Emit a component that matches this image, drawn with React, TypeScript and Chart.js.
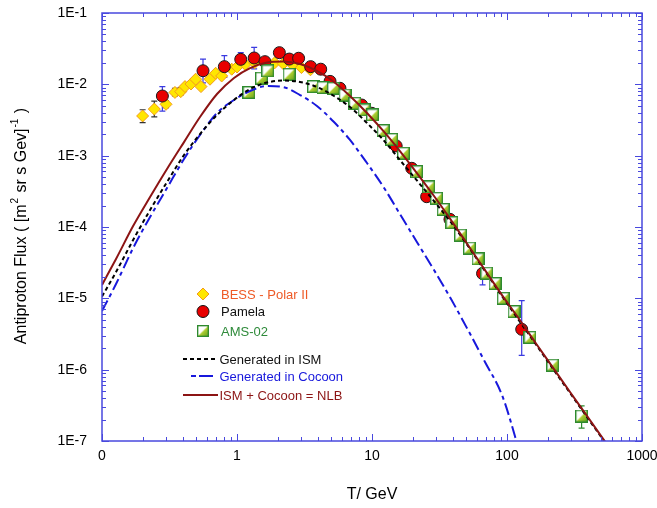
import React, { useEffect, useRef } from "react";
import { Chart, registerables } from "chart.js";

Chart.register(...registerables);

const FONT = "'Liberation Sans', Arial, Helvetica, sans-serif";
const AXIS = "#4848de";

// ---- ticks ----
const xTickValues = [0.1, 1, 10, 100, 1000];
const xTickLabels = ["0", "1", "10", "100", "1000"];
const yTickValues = [1e-7, 1e-6, 1e-5, 1e-4, 1e-3, 1e-2, 1e-1];
const yTickLabels = ["1E-7", "1E-6", "1E-5", "1E-4", "1E-3", "1E-2", "1E-1"];

// ---- BESS - Polar II ----
const bessT = [0.2, 0.244, 0.298, 0.347, 0.383, 0.412, 0.456, 0.494, 0.541, 0.631, 0.695, 0.77, 0.914, 1.0, 1.15, 1.35, 1.6, 1.9, 2.2, 2.6, 3.0, 3.5];
const bessF = [3.6e-3, 4.5e-3, 5.25e-3, 7.7e-3, 7.9e-3, 9.3e-3, 1.01e-2, 1.18e-2, 9.3e-3, 1.18e-2, 1.43e-2, 1.31e-2, 1.63e-2, 1.75e-2, 1.9e-2, 2.0e-2, 2.05e-2, 2.0e-2, 1.95e-2, 1.85e-2, 1.72e-2, 1.6e-2];
const bessErrT = [0.2, 0.244, 0.298, 0.347, 0.383, 0.456];
const bessErrLo = [2.9e-3, 3.5e-3, 4.7e-3, 6.9e-3, 7.1e-3, 9.1e-3];
const bessErrHi = [4.4e-3, 5.8e-3, 5.9e-3, 8.8e-3, 9.0e-3, 1.13e-2];

// ---- Pamela ----
const pamT = [0.28, 0.56, 0.806, 1.066, 1.34, 1.61, 2.06, 2.44, 2.86, 3.51, 4.17, 4.89, 5.79, 8.39, 9.95, 15.1, 19.7, 25.4, 37.8, 65.9, 128.5];
const pamF = [6.86e-3, 1.55e-2, 1.77e-2, 2.24e-2, 2.34e-2, 2.08e-2, 2.78e-2, 2.26e-2, 2.32e-2, 1.77e-2, 1.63e-2, 1.1e-2, 8.8e-3, 5.13e-3, 3.93e-3, 1.37e-3, 6.65e-4, 2.66e-4, 1.28e-4, 2.23e-5, 3.68e-6];
const pamErrT = [0.28, 0.56, 0.806, 1.066, 1.34, 65.9, 128.5];
const pamErrLo = [4.2e-3, 1.05e-2, 1.25e-2, 1.8e-2, 1.65e-2, 1.54e-5, 1.59e-6];
const pamErrHi = [9.3e-3, 2.26e-2, 2.52e-2, 2.78e-2, 3.3e-2, 2.64e-5, 9.3e-6];

// ---- AMS-02 ----
const amsT = [1.227, 1.52, 1.69, 2.43, 3.69, 4.34, 5.17, 6.31, 7.48, 8.73, 10.1, 12.1, 14.0, 17.1, 21.4, 26.3, 30.1, 33.7, 39.1, 45.3, 52.7, 61.0, 70.8, 81.5, 93.9, 112.7, 148, 218, 357];
const amsF = [7.68e-3, 1.22e-2, 1.54e-2, 1.38e-2, 9.3e-3, 9.0e-3, 8.8e-3, 7.08e-3, 5.42e-3, 4.37e-3, 3.72e-3, 2.24e-3, 1.69e-3, 1.08e-3, 5.96e-4, 3.64e-4, 2.52e-4, 1.76e-4, 1.15e-4, 7.7e-5, 5.07e-5, 3.56e-5, 2.26e-5, 1.61e-5, 1.0e-5, 6.5e-6, 2.84e-6, 1.16e-6, 2.24e-7];
const amsErrT = [357];
const amsErrLo = [1.52e-7];
const amsErrHi = [3.1e-7];

// ---- model curves ----
const nlbT = [0.1, 0.127, 0.17, 0.227, 0.303, 0.405, 0.532, 0.711, 0.95, 1.25, 1.67, 2.19, 2.93, 3.91, 5.23, 6.87, 9.18, 12.3, 16.1, 21.5, 28.8, 38.5, 51.4, 68.7, 91.8, 123, 164, 219, 293, 392, 523, 698];
const nlbF = [1.54e-5, 3.56e-5, 1.03e-4, 2.63e-4, 6.5e-4, 1.55e-3, 3.48e-3, 7.32e-3, 1.23e-2, 1.69e-2, 2.02e-2, 2.09e-2, 1.93e-2, 1.54e-2, 1.08e-2, 6.86e-3, 3.96e-3, 2.15e-3, 1.16e-3, 5.71e-4, 2.72e-4, 1.25e-4, 5.6e-5, 2.49e-5, 1.11e-5, 5.13e-6, 2.33e-6, 1.07e-6, 4.86e-7, 2.24e-7, 1.03e-7, 4.75e-8];

const ismT = [0.1, 0.127, 0.17, 0.227, 0.303, 0.405, 0.532, 0.711, 0.95, 1.25, 1.67, 2.19, 2.93, 3.91, 5.23, 6.87, 9.18, 12.3, 16.1, 21.5, 28.8, 38.5, 51.4, 68.7, 91.8, 164, 293, 523, 698];
const ismF = [1.06e-5, 2.34e-5, 6.57e-5, 1.73e-4, 4.27e-4, 1.02e-3, 2.01e-3, 3.72e-3, 6.03e-3, 8.6e-3, 1.06e-2, 1.13e-2, 1.08e-2, 9.18e-3, 6.86e-3, 4.81e-3, 2.87e-3, 1.61e-3, 8.69e-4, 4.49e-4, 2.31e-4, 1.16e-4, 5.41e-5, 2.42e-5, 1.08e-5, 2.25e-6, 4.71e-7, 1.0e-7, 4.6e-8];

const cocT = [0.1, 0.127, 0.17, 0.227, 0.303, 0.405, 0.532, 0.711, 0.95, 1.25, 1.67, 2.19, 2.93, 3.91, 5.23, 6.87, 9.18, 12.3, 16.1, 21.5, 28.8, 38.5, 51.4, 68.7, 91.8, 115, 120.5];
const cocF = [6.64e-6, 1.59e-5, 5.07e-5, 1.38e-4, 3.52e-4, 8.98e-4, 1.95e-3, 3.96e-3, 6.03e-3, 8.06e-3, 9.48e-3, 9.18e-3, 7.08e-3, 4.97e-3, 2.96e-3, 1.66e-3, 7.89e-4, 3.52e-4, 1.52e-4, 6.16e-5, 2.49e-5, 9.78e-6, 3.6e-6, 1.28e-6, 4.41e-7, 1.14e-7, 8.2e-8];

const BESS_FILL = "#ffe600";
const BESS_EDGE = "#f39a1c";
const PAM_FILL = "#e80000";
const NLB_COLOR = "#8c1414";
const COC_COLOR = "#1818dc";

function makeAmsMarker(size: number): HTMLCanvasElement {
  const c = document.createElement("canvas");
  c.width = size;
  c.height = size;
  const g = c.getContext("2d")!;
  g.fillStyle = "#ffffff";
  g.fillRect(0, 0, size, size);
  const grad = g.createLinearGradient(size, size, size * 0.35, size * 0.35);
  grad.addColorStop(0, "#5a9a18");
  grad.addColorStop(1, "#cfe23c");
  g.fillStyle = grad;
  g.beginPath();
  g.moveTo(size, 0);
  g.lineTo(size, size);
  g.lineTo(0, size);
  g.closePath();
  g.fill();
  g.strokeStyle = "#2e8a2e";
  g.lineWidth = 1.4;
  g.strokeRect(0.7, 0.7, size - 1.4, size - 1.4);
  return c;
}

export default function App() {
  const ref = useRef<HTMLCanvasElement>(null);

  useEffect(() => {
    document.body.style.margin = "0";
    const canvas = ref.current!;
    const ams = makeAmsMarker(13);
    const pts = (xs: number[], ys: number[]) => xs.map((x, i) => ({ x, y: ys[i] }));

    const errorSets = [
      { t: bessErrT, lo: bessErrLo, hi: bessErrHi, color: "#333333" },
      { t: pamErrT, lo: pamErrLo, hi: pamErrHi, color: "#3a3ae0" },
      { t: amsErrT, lo: amsErrLo, hi: amsErrHi, color: "#2e8a2e" },
    ];

    const errorBars = {
      id: "errorBars",
      beforeDatasetsDraw(chart: any) {
        const { ctx, chartArea: a } = chart;
        const xs = chart.scales.x;
        const ys = chart.scales.y;
        ctx.save();
        ctx.beginPath();
        ctx.rect(a.left, a.top, a.right - a.left, a.bottom - a.top);
        ctx.clip();
        ctx.lineWidth = 1.2;
        for (const s of errorSets) {
          ctx.strokeStyle = s.color;
          s.t.forEach((t, i) => {
            const px = xs.getPixelForValue(t);
            const p1 = ys.getPixelForValue(s.lo[i]);
            const p2 = ys.getPixelForValue(s.hi[i]);
            ctx.beginPath();
            ctx.moveTo(px, p1);
            ctx.lineTo(px, p2);
            ctx.moveTo(px - 3, p1);
            ctx.lineTo(px + 3, p1);
            ctx.moveTo(px - 3, p2);
            ctx.lineTo(px + 3, p2);
            ctx.stroke();
          });
        }
        ctx.restore();
      },
    };

    const frame = {
      id: "frame",
      afterDraw(chart: any) {
        const { ctx, chartArea: a } = chart;
        const xs = chart.scales.x;
        const ys = chart.scales.y;
        ctx.save();
        ctx.strokeStyle = AXIS;
        ctx.lineWidth = 1.5;
        ctx.strokeRect(a.left, a.top, a.right - a.left, a.bottom - a.top);
        ctx.lineWidth = 1;
        ctx.beginPath();
        for (let d = -1; d <= 3; d++) {
          for (let m = 1; m <= 9; m++) {
            const v = m * Math.pow(10, d);
            if (v > 1000 * 1.0001) break;
            const px = Math.round(xs.getPixelForValue(v)) + 0.5;
            const len = m === 1 ? 7 : 4;
            ctx.moveTo(px, a.bottom);
            ctx.lineTo(px, a.bottom - len);
            ctx.moveTo(px, a.top);
            ctx.lineTo(px, a.top + len);
          }
        }
        for (let d = -7; d <= -1; d++) {
          for (let m = 1; m <= 9; m++) {
            const v = m * Math.pow(10, d);
            if (v > 0.1 * 1.0001) break;
            const py = Math.round(ys.getPixelForValue(v)) + 0.5;
            const len = m === 1 ? 7 : 4;
            ctx.moveTo(a.left, py);
            ctx.lineTo(a.left + len, py);
            ctx.moveTo(a.right, py);
            ctx.lineTo(a.right - len, py);
          }
        }
        ctx.stroke();

        // axis titles
        ctx.fillStyle = "#000";
        ctx.font = `16px ${FONT}`;
        ctx.textAlign = "center";
        ctx.textBaseline = "alphabetic";
        ctx.fillText("T/ GeV", (a.left + a.right) / 2, 499);

        const segs: [string, boolean][] = [
          ["Antiproton Flux ( [m", false],
          ["2", true],
          [" sr s Gev]", false],
          ["-1", true],
          [" )", false],
        ];
        const big = `16px ${FONT}`;
        const small = `10px ${FONT}`;
        let total = 0;
        const widths = segs.map(([s, sup]) => {
          ctx.font = sup ? small : big;
          const w = ctx.measureText(s).width + (sup ? 2 : 0);
          total += w;
          return w;
        });
        ctx.save();
        ctx.translate(26, 226);
        ctx.rotate(-Math.PI / 2);
        ctx.textAlign = "left";
        let cx = -total / 2;
        segs.forEach(([s, sup], i) => {
          ctx.font = sup ? small : big;
          ctx.fillText(s, cx + (sup ? 1 : 0), sup ? -8 : 0);
          cx += widths[i];
        });
        ctx.restore();

        // legend
        const lx = 203;
        const tx = 221;
        ctx.font = `13px ${FONT}`;
        ctx.textAlign = "left";
        ctx.textBaseline = "alphabetic";
        // BESS
        ctx.beginPath();
        ctx.moveTo(lx - 6, 294);
        ctx.lineTo(lx, 288);
        ctx.lineTo(lx + 6, 294);
        ctx.lineTo(lx, 300);
        ctx.closePath();
        ctx.fillStyle = BESS_FILL;
        ctx.fill();
        ctx.strokeStyle = BESS_EDGE;
        ctx.lineWidth = 1;
        ctx.stroke();
        ctx.fillStyle = "#ee5a26";
        ctx.fillText("BESS - Polar II", tx, 298.5);
        // Pamela
        ctx.beginPath();
        ctx.arc(lx, 311.5, 6, 0, Math.PI * 2);
        ctx.fillStyle = PAM_FILL;
        ctx.fill();
        ctx.strokeStyle = "#111";
        ctx.stroke();
        ctx.fillStyle = "#111";
        ctx.fillText("Pamela", tx, 316);
        // AMS
        ctx.drawImage(ams, lx - 6, 331 - 6, 12, 12);
        ctx.fillStyle = "#2e8a3a";
        ctx.fillText("AMS-02", tx, 335.5);
        // ISM
        ctx.lineWidth = 2;
        ctx.strokeStyle = "#000";
        ctx.setLineDash([4, 3]);
        ctx.beginPath();
        ctx.moveTo(183, 359);
        ctx.lineTo(218, 359);
        ctx.stroke();
        ctx.fillStyle = "#111";
        ctx.fillText("Generated in ISM", 219.5, 363.5);
        // Cocoon
        ctx.strokeStyle = COC_COLOR;
        ctx.setLineDash([5, 3, 14, 100]);
        ctx.beginPath();
        ctx.moveTo(191, 376);
        ctx.lineTo(218, 376);
        ctx.stroke();
        ctx.fillStyle = COC_COLOR;
        ctx.fillText("Generated in Cocoon", 219.5, 380.5);
        // NLB
        ctx.setLineDash([]);
        ctx.strokeStyle = NLB_COLOR;
        ctx.beginPath();
        ctx.moveTo(183, 395);
        ctx.lineTo(218, 395);
        ctx.stroke();
        ctx.fillStyle = NLB_COLOR;
        ctx.fillText("ISM + Cocoon = NLB", 219.5, 399.5);
        ctx.restore();
      },
    };

    const chart = new Chart(canvas, {
      type: "scatter",
      data: {
        datasets: [
          {
            label: "BESS - Polar II",
            data: pts(bessT, bessF),
            pointStyle: "rectRot",
            pointRadius: 6,
            backgroundColor: BESS_FILL,
            borderColor: BESS_EDGE,
            borderWidth: 1,
            order: 3,
          },
          {
            label: "Pamela",
            data: pts(pamT, pamF),
            pointStyle: "circle",
            pointRadius: 6,
            backgroundColor: PAM_FILL,
            borderColor: "#1a1a1a",
            borderWidth: 1,
            order: 2,
          },
          {
            label: "AMS-02",
            data: pts(amsT, amsF),
            pointStyle: ams as any,
            pointRadius: 6.5,
            order: 1,
          },
          {
            type: "line",
            label: "Generated in ISM",
            data: pts(ismT, ismF),
            showLine: true,
            borderColor: "#000",
            borderWidth: 2,
            borderDash: [4, 3],
            pointRadius: 0,
            fill: false,
            cubicInterpolationMode: "monotone",
            order: 0,
          },
          {
            type: "line",
            label: "Generated in Cocoon",
            data: pts(cocT, cocF),
            showLine: true,
            borderColor: COC_COLOR,
            borderWidth: 2,
            borderDash: [12, 4, 4, 4],
            pointRadius: 0,
            fill: false,
            cubicInterpolationMode: "monotone",
            order: 0,
          },
          {
            type: "line",
            label: "ISM + Cocoon = NLB",
            data: pts(nlbT, nlbF),
            showLine: true,
            borderColor: NLB_COLOR,
            borderWidth: 2,
            pointRadius: 0,
            fill: false,
            cubicInterpolationMode: "monotone",
            order: -1,
          },
        ] as any,
      },
      options: {
        responsive: false,
        animation: false,
        events: [],
        layout: { padding: { left: 0, right: 15, top: 13, bottom: 0 } },
        plugins: {
          legend: { display: false },
          tooltip: { enabled: false },
        },
        scales: {
          x: {
            type: "logarithmic",
            position: "bottom",
            min: 0.1,
            max: 1000,
            grid: { display: false, drawTicks: false },
            border: { display: false },
            ticks: {
              color: "#000",
              font: { family: FONT, size: 14 },
              padding: 7,
              maxRotation: 0,
              autoSkip: false,
              callback: (v: any) => {
                const i = xTickValues.findIndex((t) => Math.abs(t - v) / t < 1e-6);
                return i >= 0 ? xTickLabels[i] : "";
              },
            },
            afterBuildTicks: (s: any) => {
              s.ticks = xTickValues.map((v) => ({ value: v }));
            },
            afterFit: (s: any) => {
              s.height = 67;
              s.paddingLeft = 0;
              s.paddingRight = 0;
              s.paddingTop = 0;
              s.paddingBottom = 0;
            },
          },
          y: {
            type: "logarithmic",
            position: "left",
            min: 1e-7,
            max: 1e-1,
            grid: { display: false, drawTicks: false },
            border: { display: false },
            ticks: {
              color: "#000",
              font: { family: FONT, size: 14 },
              padding: 15,
              autoSkip: false,
              callback: (v: any) => {
                const i = yTickValues.findIndex((t) => Math.abs(t - v) / t < 1e-6);
                return i >= 0 ? yTickLabels[i] : "";
              },
            },
            afterBuildTicks: (s: any) => {
              s.ticks = yTickValues.map((v) => ({ value: v }));
            },
            afterFit: (s: any) => {
              s.width = 102;
              s.paddingLeft = 0;
              s.paddingRight = 0;
              s.paddingTop = 0;
              s.paddingBottom = 0;
            },
          },
        },
      } as any,
      plugins: [errorBars, frame],
    });

    return () => chart.destroy();
  }, []);

  return <canvas ref={ref} width={657} height={508} style={{ display: "block" }} />;
}
